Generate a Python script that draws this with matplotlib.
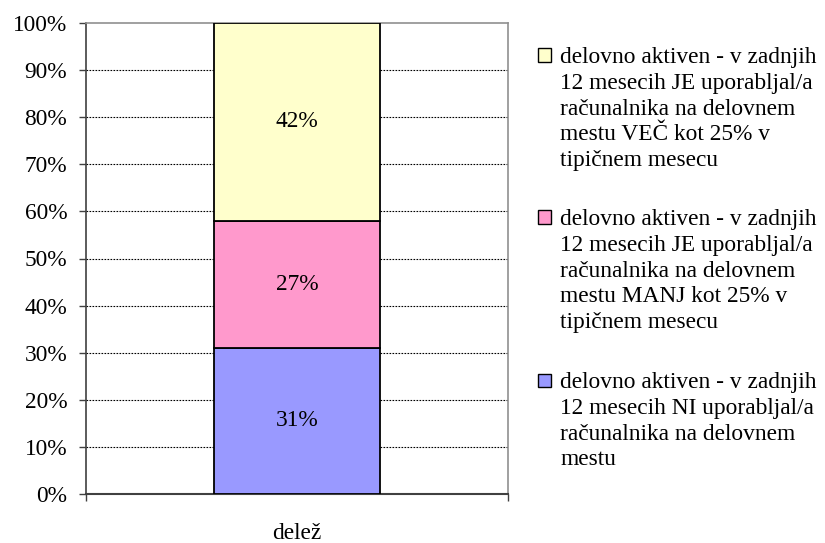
import matplotlib
matplotlib.use("Agg")
import matplotlib.pyplot as plt
from matplotlib.patches import Rectangle
from matplotlib.ticker import FixedLocator, PercentFormatter

categories = ["delež"]
series_labels = [
    "delovno aktiven - v zadnjih\n12 mesecih NI uporabljal/a\nračunalnika na delovnem\nmestu",
    "delovno aktiven - v zadnjih\n12 mesecih JE uporabljal/a\nračunalnika na delovnem\nmestu MANJ kot 25% v\ntipičnem mesecu",
    "delovno aktiven - v zadnjih\n12 mesecih JE uporabljal/a\nračunalnika na delovnem\nmestu VEČ kot 25% v\ntipičnem mesecu",
]
values = [31, 27, 42]
colors = ["#9999FF", "#FF99CC", "#FFFFCC"]

FONT = "Liberation Serif"
FS = 16.8

fig = plt.figure(figsize=(8.25, 5.43), dpi=100)
W, H = 825, 543
ax = fig.add_axes([86 / W, 1 - 494 / H, (508 - 86) / W, (494 - 23) / H])

bottom = 0
for v, c in zip(values, colors):
    ax.bar(0, v, width=0.394, bottom=bottom, color=c, edgecolor="black", linewidth=1.3, zorder=3)
    ax.text(0, bottom + v / 2, f"{v}%", ha="center", va="center", fontsize=FS, family=FONT, zorder=4)
    bottom += v

ax.set_xlim(-0.5, 0.5)
ax.set_ylim(0, 100)
ax.set_yticks(range(0, 101, 10))
ax.yaxis.set_major_formatter(PercentFormatter(decimals=0))
for y in range(10, 100, 10):
    ax.axhline(y, color="black", linestyle=(0, (1.5, 1.2)), linewidth=0.8, zorder=1)

ax.set_xticks([0])
ax.set_xticklabels(categories, fontsize=FS, family=FONT)
ax.tick_params(axis="x", which="major", length=0, pad=21)
ax.xaxis.set_minor_locator(FixedLocator([-0.5, 0.5]))
ax.tick_params(axis="x", which="minor", length=5, width=1, color="#404040", direction="out")
ax.tick_params(axis="y", length=5, width=1, color="#404040", direction="out", pad=8.5)
for lab in ax.get_yticklabels():
    lab.set_fontsize(FS)
    lab.set_family(FONT)

ax.spines["left"].set_color("#404040")
ax.spines["bottom"].set_color("#404040")
ax.spines["left"].set_linewidth(1.2)
ax.spines["bottom"].set_linewidth(1.5)
ax.spines["top"].set_color("#909090")
ax.spines["right"].set_color("#909090")
ax.spines["top"].set_linewidth(1.2)
ax.spines["right"].set_linewidth(1.2)

# legend (reversed order, top is last series)
legend_centers = [380, 217, 55]
for lab, c, yc in zip(series_labels, colors, legend_centers):
    fig.add_artist(Rectangle((538 / W, 1 - (yc + 6.5) / H), 13 / W, 13 / H,
                             transform=fig.transFigure, facecolor=c, edgecolor="black", linewidth=1))
    fig.text(560 / W, 1 - (yc - 8) / H, lab, ha="left", va="top", fontsize=FS,
             family=FONT, linespacing=1.3)

fig.savefig("out.png", dpi=100)
